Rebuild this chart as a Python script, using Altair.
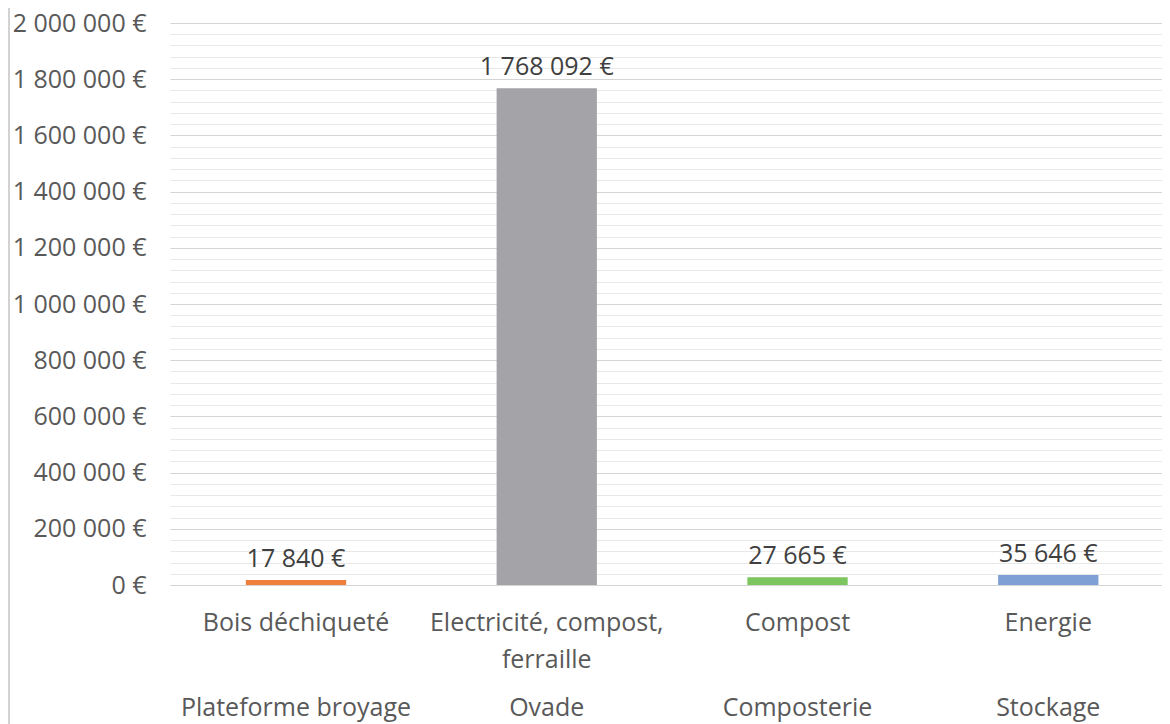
import altair as alt
import pandas as pd

categories = ["Bois déchiqueté", "Electricité, compost,\nferraille", "Compost", "Energie"]
groups = ["Plateforme broyage", "Ovade", "Composterie", "Stockage"]
values = [17840, 1768092, 27665, 35646]
colors = ["#EF7F3A", "#A3A3A8", "#7DC55E", "#7EA0D4"]
y_ticks = list(range(0, 2000001, 40000))

df = pd.DataFrame({"cat": categories, "grp": groups, "val": values, "col": colors})

FONT = "Open Sans"
TXT = "#595959"
FS = 25
fmt = "replace(format({v}, ',.0f'), /,/g, ' ') + ' €'"

W, H = 992, 562

x_scale = alt.Scale(domain=categories, paddingInner=0.6, paddingOuter=0.278, align=0.544)
y_scale = alt.Scale(domain=[0, 2000000], nice=False)

base = alt.Chart(df).encode(
    x=alt.X("cat:N", sort=categories, scale=x_scale,
            axis=alt.Axis(title=None, labelAngle=0, domain=False, ticks=False,
                          labelPadding=25, labelFontSize=FS, labelFont=FONT,
                          labelColor=TXT, labelLineHeight=37, labelBaseline="top",
                          labelLimit=500, labelOverlap=False,
                          labelExpr="split(datum.label, '\\n')")),
)

bars = base.mark_bar().encode(
    y=alt.Y("val:Q", scale=y_scale,
            axis=alt.Axis(title=None, values=y_ticks, tickCount=len(y_ticks),
                          domain=False, ticks=False,
                          labelPadding=24, labelFontSize=FS, labelFont=FONT,
                          labelColor=TXT, labelOverlap=False, labelLimit=300,
                          labelExpr="datum.value % 200000 === 0 ? " + fmt.format(v="datum.value") + " : ''",
                          gridColor={"condition": {"test": "datum.value % 200000 === 0", "value": "#d4d4d4"},
                                     "value": "#e8e8e8"},
                          gridWidth=1)),
    color=alt.Color("col:N", scale=None),
)

labels = base.transform_calculate(
    lab=fmt.format(v="datum.val")
).mark_text(fontSize=FS, font=FONT, color="#404040", baseline="alphabetic", dy=-13).encode(
    y=alt.Y("val:Q", scale=y_scale),
    text="lab:N",
)

grp_labels = base.mark_text(fontSize=FS, font=FONT, color=TXT, baseline="alphabetic").encode(
    y=alt.value(H + 131),
    text="grp:N",
)

frame = alt.Chart(df).mark_rule(color="#d0d0d0", strokeWidth=1).encode(
    x=alt.value(-161), y=alt.value(-30), y2=alt.value(H + 160)
)

chart = alt.layer(bars, labels, grp_labels, frame).properties(
    width=W, height=H,
    autosize=alt.AutoSizeParams(type="none"),
    padding={"left": 162, "top": 15, "right": 0, "bottom": 139},
).configure(background="white").configure_view(stroke=None)

chart.save("out.html", embed_options={"renderer": "svg", "actions": False})
